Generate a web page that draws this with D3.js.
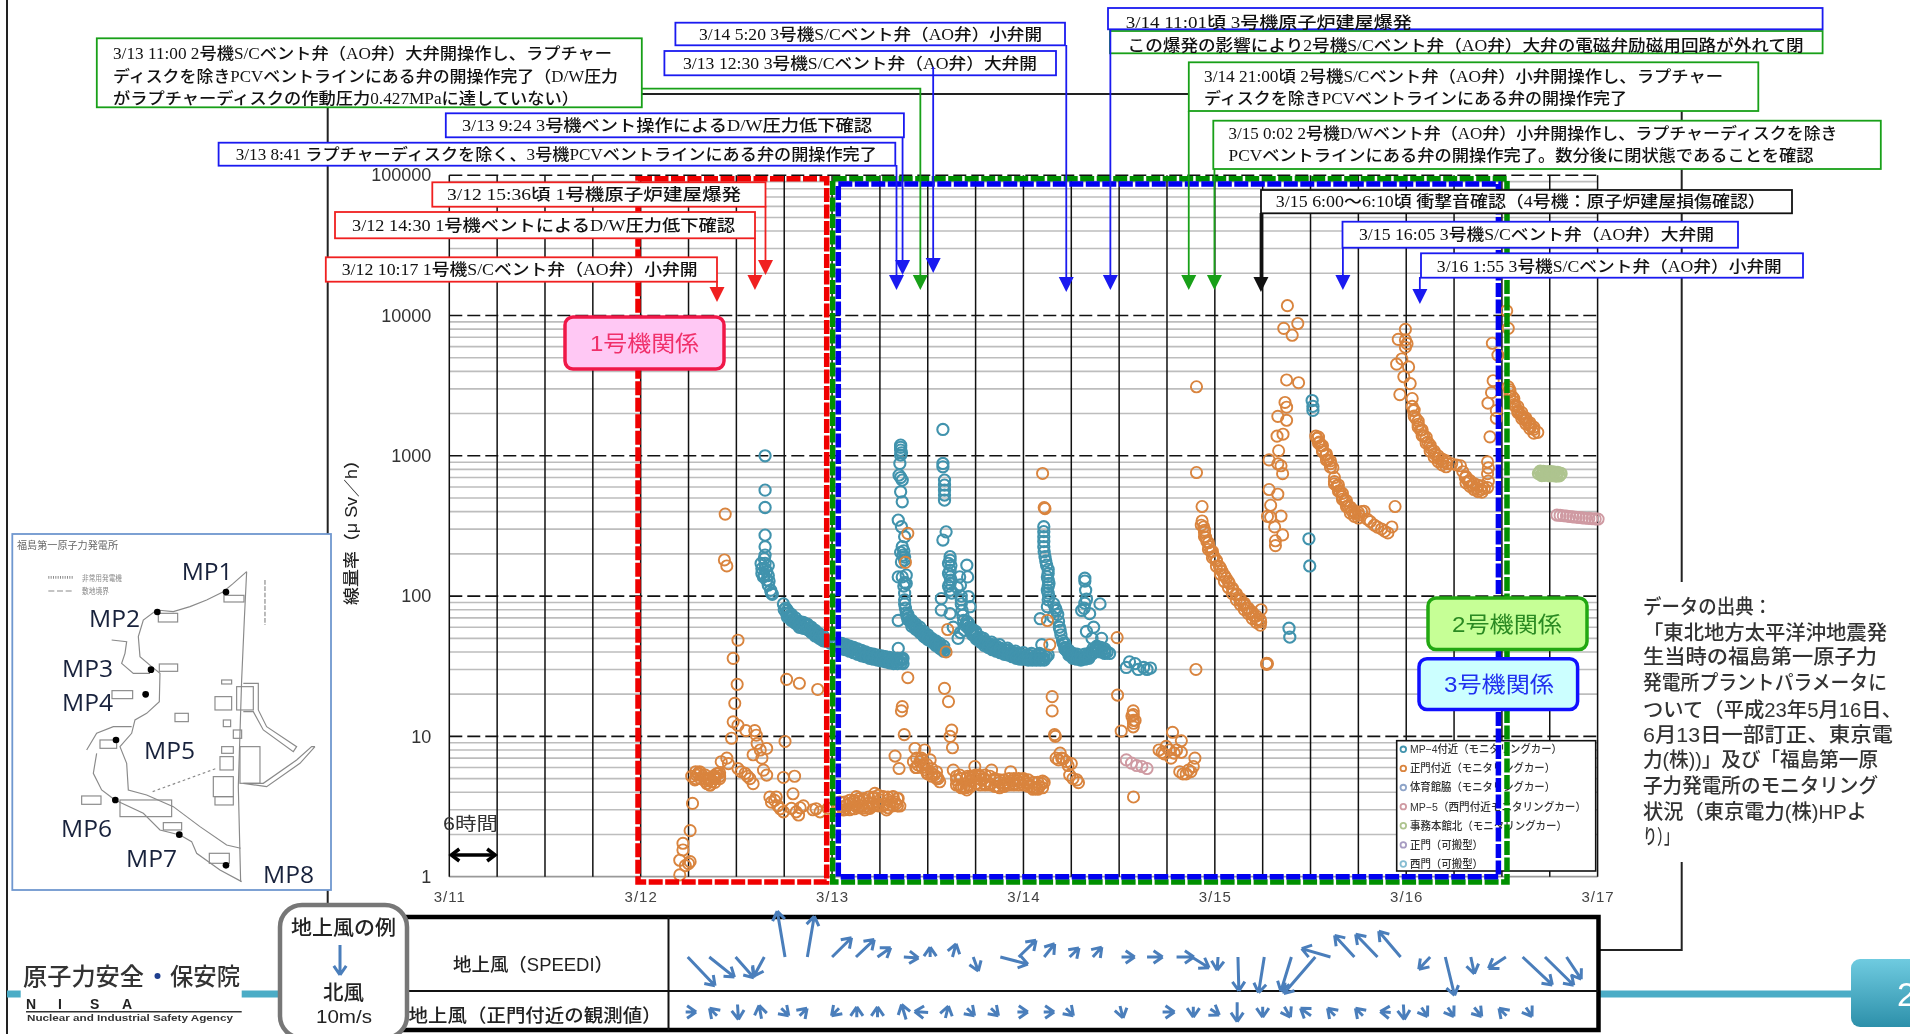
<!DOCTYPE html>
<html lang="ja">
<head>
<meta charset="utf-8">
<title>線量率の推移</title>
<script src="https://cdn.jsdelivr.net/npm/d3@7"></script>
<style>
  html, body { margin: 0; padding: 0; background: #fff; }
  svg { display: block; filter: blur(0.7px); font-family: "Liberation Sans", "Noto Sans CJK JP", sans-serif; }
</style>
</head>
<body>
<svg id="chart" width="1910" height="1034"></svg>
<script>
/* Dose rate at the site gates, 3/11 - 3/17. All points are [hours after 3/11 0:00, uSv/h] */

const yTicks = [1, 10, 100, 1000, 10000, 100000];
const dayLabels = ["3/11", "3/12", "3/13", "3/14", "3/15", "3/16", "3/17"];

// MP-4 monitoring car
const mp4Points = [
  [39.6,1000],[39.6,569],[39.6,428],[39.6,272],[39.6,225],[39.6,196],[39.5,185],[39.1,171],[39.6,171],[40,165],[39.2,157],[39.6,157],[39.8,150],[39.2,145],[39.5,140],[40,140],[39.4,137],[39.8,130],[40.1,128],[40,120],[40.3,110],[40.4,105],[40.5,103],
  [41.9,88],[42,80],[42.2,82],[42.3,75],[42.5,76],[42.7,71],[42.9,72],[43.1,67],[43.3,68],[43.5,64],[43.7,65],[43.9,62],[44.1,64],[44.3,60],[44.5,63],[44.7,59],[44.9,62],[45.1,57],[45.3,59],[45.5,55],[45.7,56],[45.9,53],[46.1,54],[46.3,51],[46.5,52],[46.7,49],[46.9,50],[47.1,48],
  [47.4,48],[47.8,46],[48.2,46],[48.6,45],[49,45],[49.2,43],[49.5,44],[49.8,42],[50.1,43],[50.4,41],[50.7,42],[51,40],[51.3,41],[51.6,39],[51.9,39.5],[52.2,38],[52.5,38.5],[52.8,37],[53.1,37.5],[53.4,36],[53.7,36.5],[54,35.5],[54.3,36],[54.6,35],[54.9,35.5],[55.2,34.5],[55.5,35],[55.8,34],[56.1,35],[56.4,34],[56.7,35],[56.9,36],[56.9,33],
  [56.6,1191],[56.6,1150],[56.6,1097],[56.7,1050],[56.6,1011],[56.5,881],[56.4,728],[56.6,700],[56.8,671],[56.6,554],[56.8,470],[56.3,348],[56.7,312],[57.1,265],[56.8,225],[57,210],[56.6,205],[56.9,196],[57.1,190],[57.1,181],[56.7,175],[56.3,137],[57.3,141],[56.8,137],[57.1,125],[57.3,123],[57,118],[57.1,105],[57.1,94],[56.3,67],[56.3,42.4],
  [57.1,88],[57.2,82],[57.3,76],[57.4,72],[57.6,70],[57.8,67],[58,64],[58.2,63],[58.4,60],[58.6,60],[58.8,57],[59,57],[59.2,54],[59.4,54],[59.6,51],[59.8,52],[60,50],[60.3,50],[60.5,48],[60.7,48],[60.9,46],[61.1,46],[61.3,44],[61.5,44],[61.7,42],[61.9,42],[62.1,41],
  [61.9,1541],[61.9,882],[61.9,835],[62.1,671],[62.1,618],[62.1,569],[62.1,525],[62.1,483],[62.3,287],[61.9,251],
  [62.8,191],[62.8,180],[62.6,171],[62.9,165],[62.8,153],[62.6,145],[62.8,137],[62.9,130],[62.8,123],[62.6,118],[62.8,110],[63,105],[61.7,96],[61.7,79.5],[62.8,75],[63.2,60],[63.8,50],[64.1,55],
  [64.9,166],[65,137],[64,137],[65.1,99],[65.3,84],[64.2,94],[64.2,88],[64.3,79],[64.4,73],[64.5,67],[64.7,62],[64.6,57],[64.2,100],[63.7,115],[64.1,120],
  [64.9,66],[65,64],[65.2,60],[65.4,57],[65.7,54],[65.9,52],[66.2,50],[66.5,49],[66.8,47],[67.1,46],[67.4,45],[67.8,44],[68.1,43],[68.4,42],[68.8,41.5],[69.1,40.5],[69.5,40],[69.8,39],[70.1,39],[70.4,38],[70.7,38],[71,37],[71.3,37],[71.6,36.5],[71.9,36.5],[72.2,36],[72.5,36],[72.8,35.5],[73.1,36],[73.4,35.5],[73.7,36],[74,35.5],[74.3,36],[74.6,36],[74.9,37],[75.1,38],
  [66,56],[67,50],[68,47],[69,45],[70,42.5],[71,40.5],[72,39.5],[73,39],[74,39],
  [74.55,312],[74.55,288],[74.55,265],[74.55,245],[74.55,225],[74.6,207],[74.7,191],[74.8,178],[74.9,166],[75.1,155],[75.1,145],[75,137],[75.1,130],[75.2,123],[75.1,117],[75,110],[75.1,105],[75.2,99],[75.1,94],[74.1,69],[74.3,45],[75,84],[75.7,71],
  [75.8,88],[76,82],[76.1,79],[76.3,74],[76.4,66],[76.5,60],[76.6,57],[76.7,53],[76.9,48],[77,46],[77.2,43],[77.4,41],[77.6,40],[77.8,38.5],[78,38],[78.2,37.5],[78.4,37],[78.7,36.5],[79,36],[79.3,36],[79.6,36.5],[79.8,37],[80.1,37],[80.4,38],[80.7,40],[81,42],[81.2,43],[81.4,42],[81.8,41],[82.2,40.5],[82.5,40],[82.8,39],
  [79.7,134],[79.7,128],[79.8,110],[79.7,89],[79.3,79],[80.3,75],[81.6,88],[80.8,60],[79.9,56],[80.6,50],[81.8,50],[79.6,82],[79.9,95],
  [85.3,34],[84.9,31],[86.4,30],[87.07,31],[87.93,30.7],[87.5,30],[86,33],
  [108.2,2477],[108.3,2250],[108.3,2106],[107.8,256],[107.9,164],[105.3,59],[105.4,51]
];

// the same car, the upper and lower edges of its dense decay bands
const mp4Band = [
  [42.4,79],[42.4,71],[42.9,74],[42.9,67],[43.4,70],[43.4,64],[43.9,66],[43.9,60],[44.4,65],[44.4,59],[44.9,63],[44.9,58],[45.4,60],[45.4,55],[45.9,57],[45.9,52],[46.4,54],[46.4,50],[46.9,52],[46.9,48],
  [49.2,46],[49.2,42],[49.7,45],[49.7,41.5],[50.2,44],[50.2,40.5],[50.7,43],[50.7,39.5],[51.2,42],[51.2,38.5],[51.7,41],[51.7,37.5],[52.2,40],[52.2,37],[52.7,39],[52.7,36],[53.2,38.5],[53.2,35.5],[53.7,38],[53.7,35],[54.2,37.5],[54.2,34.5],[54.7,37],[54.7,34],[55.2,36.5],[55.2,33.5],[55.7,36],[55.7,33],[56.2,36],[56.2,33],[56.7,36],[56.7,33.5],
  [57.5,74],[57.5,68],[58,67],[58,61],[58.5,63],[58.5,58],[59,60],[59,55],[59.5,56],[59.5,52],[60,53],[60,49],[60.5,50],[60.5,47],[61,48],[61,44.5],[61.5,46],[61.5,42.5],[62,44],[62,40.5],
  [65.1,64],[65.1,59],[65.6,58],[65.6,53],[66.1,54],[66.1,49.5],[66.6,51],[66.6,47],[67.1,48],[67.1,44.5],[67.6,46],[67.6,43],[68.1,45],[68.1,41.5],[68.6,44],[68.6,40.5],[69.1,42.5],[69.1,39.5],[69.6,41.5],[69.6,38.5],[70.1,41],[70.1,38],[70.6,40],[70.6,37],[71.1,39],[71.1,36],[71.6,38.5],[71.6,35.5],[72.1,38],[72.1,35.5],[72.6,38],[72.6,35],[73.1,37.5],[73.1,35],[73.6,37.5],[73.6,35],[74.1,38],[74.1,35],[74.6,38],[74.6,35],
  [77.2,46],[77.2,42],[77.7,41],[77.7,38],[78.2,39],[78.2,36],[78.7,38.5],[78.7,35.5],[79.2,38],[79.2,35],[79.7,38.5],[79.7,35.5],[80.2,39],[80.2,36],[80.7,42],[80.7,39],[81.2,44],[81.2,41],[81.7,43],[81.7,40],[82.2,42],[82.2,39]
];

// near the main gate, monitoring car
const gatePoints = [
  [28.9,1.03],[30,1.24],[30.2,1.28],[29.6,1.2],[28.9,1.31],[29.3,1.73],[29.3,1.55],[30.2,2.13],[30.5,3.33],
  [30.4,5.2],[31.2,5.45],[31.8,5.2],[32.5,4.9],[32.9,4.75],[33.3,5],[33.9,5.2],[30.8,4.9],[31.4,5.6],[32.3,4.6],[32.7,4.5],[33.7,5.45],[34.1,6.6],[34.8,7],[35,6.4],[31,5.3],[32,5],[33.1,5.2],[33.5,5.4],
  [35.4,9.7],[35.6,12.7],[35.8,17.2],[36.1,23.5],[35.6,36],[36.2,48.5],[34.6,384],[34.5,181],[34.8,164],
  [36.2,12],[37.2,11],[38.3,11],[38.5,10.2],[38.6,8.9],[39.8,8.2],[39,8],[38.1,7.4],[39.2,7],[36.2,5.9],[37.1,5.45],[37.7,5],[38.1,4.6],[39.4,5.75],[39.8,5.3],[36.6,5.6],[37.4,5.2],[42.1,9.2],[42.3,25.5],[43.9,23.9],[46.2,21.6],[41.9,5.1],[43.3,5.2],[43.1,3.9],
  [40.2,3.7],[40.8,3.5],[41.2,3.2],[41.9,2.9],[41.5,3.05],[40.4,3.4],[41,3.7],[42.9,3.07],[43.8,2.75],[44.4,3.2],[45.6,3],[46.5,2.9],[47.5,3.07],[43.5,2.9],[44,3.1],[46,3.05],
  [48.56,2.97],[49.19,3.15],[49.4,2.99],[49.82,3.24],[50.23,3.33],[50.44,3.07],[50.65,3.42],[51.07,3.72],[51.28,3.15],[51.49,3.42],[51.91,3.52],[52.11,2.99],[52.53,3.33],[52.74,3.07],[53.16,3.61],[53.37,3.93],[53.58,3.24],[54,3.52],[54.41,3.72],[54.83,2.99],[55.04,3.52],[55.25,3.24],[55.67,3.72],[55.88,3.42],[56.29,3.61],[56.5,3.19],[50.9,3.2],[51.7,3.2],[52.3,3.2],[53,3.3],[53.8,3.3],[54.6,3.3],[55.4,3.4],[56,3.3],
  [55.9,7.24],[56.4,5.9],[57.5,26.2],[56.8,16.3],[56.7,15.2],[57.05,10.3],[57.5,280],[57.2,174],
  [58.4,8.2],[59.6,8],[58.2,6.6],[58.8,6.25],[59.2,7],[60.3,6.8],[59.8,5.75],[60.5,5.45],[61.1,5.16],[61.5,4.75],[58.5,6],[59,6.6],[59.5,6.3],[60,5.4],[60.8,5.3],[61.3,5],
  [62.3,40],[62.5,57.8],[62.1,22],[62.6,17.7],[63,11.1],[62.8,10],[63.1,8.3],
  [63.2,5.75],[63.6,4.9],[64.2,4.4],[64.9,4.15],[64,5.3],[65.9,6.1],[65.7,5.2],[66.7,4.9],[68,5.75],[67.8,4.6],[68.8,4.4],[69.7,4.6],[70.4,5.6],[70.9,4.6],[72,4.9],[72.6,4.6],[73.4,4.26],[74.3,4.6],
  [63.9,4.5],[64.5,4.3],[65.1,4.5],[65.4,4.8],[66,5],[66.4,5.3],[67,5],[67.4,4.8],[68.4,4.9],[69,4.7],[69.4,4.5],[70,4.7],[70.6,4.8],[71.2,4.8],[71.6,4.7],[72.3,4.7],[73,4.4],[73.7,4.3],[74,4.4],[74.6,4.7],[65,5.2],[66.2,4.6],[67.2,4.5],
  [74.4,748],[74.6,428],[74.7,420],[75,67],[75.3,45],[75.6,19.2],[75.6,15.2],[75.9,10.3],[76,10],[76.6,7.6],[76.1,7],[76.8,7],[77.4,6.6],[78,6.4],[77.8,5.3],[78.7,4.9],[78.9,4.68],[76.4,6.8],[77,6.9],[77.6,6.2],[78.2,5],
  [83.75,50.6],[83.8,19.7],[85.8,3.7],[84.26,10.9],[85.77,15.2],[85.77,14.3],[85.77,13],[85.77,11.7],[85.6,14],[86,13],[85.8,12.4],
  [90.7,10.7],[91.8,9.3],[89,8],[89.66,7.5],[90.3,8],[91.2,8],[91.8,7.7],[89.9,8.5],[90.5,7],[93.5,7],[93.3,6.1],[92.7,5.75],[92,5.4],[91.6,5.6],[92.4,5.4],[93,5.6],[89.4,7.7],[90.9,7.6],
  [93.7,3105],[93.7,760],[93.63,30],[94.4,435],[94.4,343],[94.3,320],[94.6,311],[94.7,285],[94.84,263],[95,245],[95.27,225],[95.5,208],[95.9,191],[96.2,178],[96.57,163],[96.9,150],[97.2,140],[97.43,134],[97.8,123],[98.3,110],[98.7,102],[99.16,93.6],[99.6,87],[100,82],[100.4,77],[100.9,72],[101.3,68],[101.75,65.5],[101.8,80],
  [102.5,33.2],[102.5,32.6],[102.6,33],
  [105.1,11750],[104.64,8100],[106.4,8770],[105.7,7230],[105,3470],[106.5,3320],[104.8,2400],[105,2220],[103.9,1910],[105,1790],[103.8,1380],[104.55,1425],[104,1086],[102.8,935],[103.9,877],[104.3,849],[104.5,746],[102.8,575],[103.9,532],[103,444],[103,365],[104.3,372],[102.6,370],[103.5,311],[104.5,273],[103.6,248],[103.6,229],
  [108.66,1380],[108.8,1330],[109.1,1253],[109.3,1180],[109.5,1100],[109.9,1010],[110.2,935],[110.5,880],[110.8,822],[111,655],[111.3,610],[111.7,557],[112,512],[112.3,474],[112.7,438],[113.2,403],[113.6,390],[114.05,378],[114.4,400],[114.7,403],[115.1,354],[115.5,340],[116,321],[116.4,310],[116.9,301],[117.3,290],[117.7,282],[118.2,311],[118.6,435],
  [119.9,7960],[119,6760],[119.9,6700],[120.1,6300],[119.9,5940],[119.45,4900],[118.8,4500],[120.3,4300],[119.7,3660],[120.5,3270],[119.2,2730],[120.75,2560],
  [120.75,2250],[120.9,2100],[121.2,1850],[121.5,1680],[121.8,1525],[122.2,1390],[122.7,1253],[123.1,1130],[123.55,1033],[124,960],[124.6,906],[125.1,880],[125.7,877],[126.3,860],[126.8,849],[127.1,770],[127.4,700],[127.8,655],[128.3,614],[128.8,590],[129.4,575],[129.8,585],[130.2,594],[130.3,660],[130.2,746],[130.3,820],[130.2,906],
  [132.6,10800],[132.8,8100],[130.8,6340],[131.5,5220],[130.9,3430],[130.7,2820],[130.25,2370],[131.3,2100],[131.3,1850],[130.5,1365],
  [132.8,3100],[133,2850],[133.3,2640],[133.5,2430],[133.7,2250],[134,2100],[134.35,1970],[134.7,1870],[135,1790],[135.3,1700],[135.6,1625],[136,1540],[136.5,1470]
];

// the same car, edges of the dense stretches
const gateBand = [
  [49,3.4],[49,3],[49.6,3.4],[49.6,3],[50.2,3.5],[50.2,3],[50.8,3.5],[50.8,3.05],[51.4,3.6],[51.4,3.1],[52,3.6],[52,3.1],[52.6,3.7],[52.6,3.1],[53.2,3.7],[53.2,3.2],[53.8,3.8],[53.8,3.2],[54.4,3.7],[54.4,3.2],[55,3.7],[55,3.1],[55.6,3.7],[55.6,3.2],[56.2,3.6],[56.2,3.2],
  [63.6,5.2],[63.6,4.5],[64.2,5],[64.2,4.3],[64.8,5],[64.8,4.3],[65.4,5.2],[65.4,4.4],[66,5.3],[66,4.6],[66.6,5.2],[66.6,4.5],[67.2,5.3],[67.2,4.6],[67.8,5.2],[67.8,4.5],[68.4,5],[68.4,4.4],[69,4.9],[69,4.3],[69.6,4.9],[69.6,4.4],[70.2,5],[70.2,4.5],[70.8,5],[70.8,4.5],[71.4,5],[71.4,4.5],[72,5],[72,4.5],[72.6,4.9],[72.6,4.4],[73.2,4.7],[73.2,4.2],[73.8,4.7],[73.8,4.2],[74.4,4.8],[74.4,4.3],
  [30.9,5.6],[30.9,5],[31.5,5.5],[31.5,5],[32.1,5.3],[32.1,4.8],[32.7,5],[32.7,4.5],[33.3,5.2],[33.3,4.7],[33.9,5.5],[33.9,5],
  [58.6,7],[58.6,6],[59.3,6.8],[59.3,6],[59.9,6.3],[59.9,5.5],[60.5,5.9],[60.5,5.2],[61.1,5.6],[61.1,5],
  [94.7,295],[94.7,265],[95.2,240],[95.2,215],[95.7,208],[95.7,188],[96.2,180],[96.2,163],[96.7,158],[96.7,143],[97.2,140],[97.2,127],[97.7,127],[97.7,115],[98.2,114],[98.2,104],[98.7,104],[98.7,94],[99.2,96],[99.2,87],[99.7,89],[99.7,80],[100.2,82],[100.2,75],[100.7,77],[100.7,69],[101.2,72],[101.2,65],[101.7,68],[101.7,62],
  [109,1360],[109,1230],[109.5,1180],[109.5,1070],[110,1030],[110,930],[110.5,920],[110.5,830],[111,700],[111,630],[111.5,620],[111.5,560],[112,540],[112,490],[112.5,480],[112.5,435],[113,430],[113,390],[113.5,405],[113.5,370],[114,395],[114,360],
  [121,2120],[121,1920],[121.5,1770],[121.5,1600],[122,1530],[122,1390],[122.5,1360],[122.5,1230],[123,1190],[123,1080],[123.5,1080],[123.5,980],[124,1000],[124,910],[124.5,950],[124.5,860],[125,920],[125,835],[127.5,710],[127.5,640],[128,665],[128,605],[128.5,635],[128.5,575],[129,615],[129,555],[129.5,610],[129.5,550],
  [133,2950],[133,2670],[133.5,2560],[133.5,2320],[134,2240],[134,2030],[134.5,2030],[134.5,1840],[135,1860],[135,1690],[135.5,1720],[135.5,1560],[136,1600],[136,1450]
];

// MP-5 (near the west gate), monitoring car
const mp5Points = [
  [84.9,6.8],[85.55,6.45],[86.2,6.2],[86.85,6.1],[87.5,5.9],
  [138.9,378],[139.3,376],[139.7,374],[140.1,372],[140.5,369],[140.9,367],[141.3,365],[141.7,363],[142.1,361],[142.5,359],[142.9,358],[143.3,356],[143.7,355],[144.06,354]
];

// north of the office building, monitoring car
const officePoints = [
  [136.6,748],[136.8,775],[137,725],[137.2,772],[137.4,726],[137.6,742],[137.8,770],[138,722],[138.2,768],[138.4,725],[138.6,762],[138.8,718],[139,760],[139.2,722],[139.4,746],[137.1,750],[137.7,745],[138.3,745],[138.9,742]
];

const legendNames = ["MP−4付近（モニタリングカー）", "正門付近（モニタリングカー）", "体育館脇（モニタリングカー）", "MP−5（西門付近モニタリングカー）", "事務本館北（モニタリングカー）", "正門（可搬型）", "西門（可搬型）"];
const legendColors = ["#4193ad", "#d9843e", "#8ea4c8", "#cf9aa2", "#aec48f", "#a79cc2", "#86bdd2"];
const legendWidths = [152, 145, 145, 176, 157, 73, 73];

// event time of each callout arrow, hours after 3/11 0:00
const eventHours = [33.57, 38.33, 39.65, 56.08, 56.84, 59.07, 60.68, 77.37, 82.9, 92.73, 95.95, 101.78, 112.06, 121.71];
const eventTexts = [
  ["3/12 10:17 1号機S/Cベント弁（AO弁）小弁開"],
  ["3/12 14:30 1号機ベントによるD/W圧力低下確認"],
  ["3/12 15:36頃  1号機原子炉建屋爆発"],
  ["3/13 8:41 ラプチャーディスクを除く、3号機PCVベントラインにある弁の開操作完了"],
  ["3/13 9:24 3号機ベント操作によるD/W圧力低下確認"],
  ["3/13 11:00 2号機S/Cベント弁（AO弁）大弁開操作し、ラプチャー", "ディスクを除きPCVベントラインにある弁の開操作完了（D/W圧力", "がラプチャーディスクの作動圧力0.427MPaに達していない）"],
  ["3/13 12:30 3号機S/Cベント弁（AO弁）大弁開"],
  ["3/14 5:20 3号機S/Cベント弁（AO弁）小弁開"],
  ["3/14 11:01頃 3号機原子炉建屋爆発"],
  ["3/14 21:00頃 2号機S/Cベント弁（AO弁）小弁開操作し、ラプチャー", "ディスクを除きPCVベントラインにある弁の開操作完了"],
  ["3/15 0:02 2号機D/Wベント弁（AO弁）小弁開操作し、ラプチャーディスクを除き", "PCVベントラインにある弁の開操作完了。数分後に閉状態であることを確認"],
  ["3/15 6:00～6:10頃 衝撃音確認（4号機：原子炉建屋損傷確認）"],
  ["3/15 16:05 3号機S/Cベント弁（AO弁）大弁開"],
  ["3/16 1:55 3号機S/Cベント弁（AO弁）小弁開"]
];

// wind: hour, east and north components in m/s
const speediHours = [29.9,32.6,35.9,39.5,42.1,44.9,48,51,53.7,57,60.3,63.1,65.7,69.1,71.4,74.6,77.8,80.7,84.3,87.5,91.2,93.1,96.4,98.9,102.2,105.6,108.6,110.5,113.5,116.4,119.3,123,124.9,128.1,132.5,134.6,137.4,140.1];
const speediU = [9.1,8.4,6.1,-3.5,-2.6,2.3,6.5,6.1,4.4,4.9,0,1.2,1.7,9.2,5.8,3.5,3.1,3,4.4,5.2,5.8,5.8,-0.3,0.3,-1.9,-3.5,-10.5,-9.6,-6.6,-7.3,-7.3,-3.8,3.1,1.2,-5.8,9.9,9.6,4.9];
const speediV = [-9.6,-6.7,-6.9,-6.4,15.3,13.6,6.4,5.8,3.1,-0.3,3.3,4.4,-4.7,-2.4,5.6,4.4,3,3.3,0,0,0,-3.6,-4.4,-11.3,-11.9,-11.4,-12.2,2.8,7.2,7.6,8.6,-4.1,-12.8,-5.6,-3.8,-9.3,-9.4,-7.4];
const gateWindHours = [30.3,33.1,36.2,39,42.1,44.4,48.4,51.1,53.7,57,59.2,62.4,65.4,68.4,71.9,75.2,77.8,84.3,90.2,93.3,96,98.8,102,105.1,107.4,110.6,114.1,117.4,119.7,122.3,125.6,129,132.1,135.4];
const gateWindU = [3.5,-2.5,0.3,-0.8,2.5,2.5,-2.5,0,0,-1.5,-4.5,1,2.5,2.5,3.5,3.5,2.5,1,4,0,3,0,0,2,-3.5,-2.5,-2.5,-3.5,0.3,2,2,2.5,-2.5,2];
const gateWindV = [0,2.5,-5,4.5,-2.5,2.5,-2.5,3.5,3.5,5,0.3,4,-2.5,-2.5,0,0,-2.5,-4,0,-3.5,-2,-6.5,-3.5,-3.5,2.5,2.5,2.5,0.3,-5,-3,-3,-3,2.5,-3];

const sourceLines = ["データの出典：", "「東北地方太平洋沖地震発", "生当時の福島第一原子力", "発電所プラントパラメータに", "ついて（平成23年5月16日、", "6月13日一部訂正、東京電", "力(株))」及び「福島第一原", "子力発電所のモニタリング", "状況（東京電力(株)HPよ", "り）」"];

const CJK = '"Liberation Sans", "Noto Sans CJK JP", sans-serif';
const SERIF_CJK = '"Liberation Serif", "Noto Sans CJK JP", serif';

const svg = d3.select("#chart");
const x = d3.scaleLinear().domain([0, 144]).range([449.3, 1597.6]);
const y = d3.scaleLog().domain([1, 100000]).range([876.7, 175.2]);

// helper: fit text to a measured width
function label(g, str, x0, yc, width, size, fill, family){
  return g.append("text").attr("x", x0).attr("y", yc + size * 0.36)
      .attr("textLength", width).attr("lengthAdjust", "spacingAndGlyphs")
      .attr("font-size", size).attr("fill", fill || "#111")
      .attr("font-family", family || CJK).text(str);
}

// ---- page furniture that sits behind the chart ----
const back = svg.append("g");
back.append("line").attr("x1", 7).attr("x2", 7).attr("y1", 0).attr("y2", 1034).attr("stroke", "#222").attr("stroke-width", 2);
back.append("line").attr("x1", 327.7).attr("x2", 327.7).attr("y1", 105).attr("y2", 905).attr("stroke", "#222").attr("stroke-width", 2);
back.append("line").attr("x1", 642).attr("x2", 1189).attr("y1", 94).attr("y2", 94).attr("stroke", "#222").attr("stroke-width", 2);
back.append("path").attr("d", "M1681.7,111V582M1681.7,862V950H1600").attr("fill", "none").attr("stroke", "#222").attr("stroke-width", 2);
back.append("rect").attr("x", 7).attr("y", 990.5).attr("width", 1850).attr("height", 7).attr("fill", "#4bacc6");

const grad = svg.append("defs").append("linearGradient").attr("id", "tabFill").attr("x1", 0).attr("x2", 0).attr("y1", 0).attr("y2", 1);
grad.append("stop").attr("offset", 0).attr("stop-color", "#6fcbe0");
grad.append("stop").attr("offset", 1).attr("stop-color", "#2d90aa");
back.append("rect").attr("x", 1851).attr("y", 959).attr("width", 80).attr("height", 68).attr("rx", 9).attr("fill", "url(#tabFill)");
back.append("text").attr("x", 1897).attr("y", 1006).attr("font-size", 34).attr("fill", "#fff").text("2");

// ---- grid ----
const grid = svg.append("g");
grid.selectAll("line.minor").data(y.ticks().filter(d => !yTicks.includes(d))).join("line")
    .attr("class", "minor")
    .attr("x1", x(0)).attr("x2", x(144)).attr("y1", d => y(d)).attr("y2", d => y(d))
    .attr("stroke", "#bdbdbd").attr("stroke-width", 1.6);
grid.append("line").attr("x1", x(0)).attr("x2", x(144)).attr("y1", y(1)).attr("y2", y(1))
    .attr("stroke", "#999").attr("stroke-width", 1.8);
grid.selectAll("line.hour").data(d3.range(0, 145, 6)).join("line")
    .attr("class", "hour")
    .attr("x1", d => x(d)).attr("x2", d => x(d)).attr("y1", y(100000)).attr("y2", y(1))
    .attr("stroke", "#111").attr("stroke-width", 1.5);
grid.selectAll("line.major").data(yTicks.slice(1)).join("line")
    .attr("class", "major")
    .attr("x1", x(0)).attr("x2", x(144) + 3).attr("y1", d => y(d)).attr("y2", d => y(d))
    .attr("stroke", "#111").attr("stroke-width", 1.6).attr("stroke-dasharray", "13,5");

// ---- axes ----
const yAxis = svg.append("g").attr("transform", `translate(${x(0) - 15},0)`)
    .call(d3.axisLeft(y).tickValues(yTicks).tickSize(0).tickFormat(d3.format("d")));
const xAxis = svg.append("g").attr("transform", `translate(0,${y(1) + 12})`)
    .call(d3.axisBottom(x).tickValues(d3.range(0, 145, 24)).tickSize(0).tickFormat((d, i) => dayLabels[i]));
yAxis.select(".domain").remove();
xAxis.select(".domain").remove();
yAxis.selectAll("text").attr("font-size", 18).attr("fill", "#333").attr("font-family", "Liberation Sans");
xAxis.selectAll("text").attr("font-size", 15).attr("fill", "#444").attr("letter-spacing", "1px").attr("font-family", "Liberation Sans");

svg.append("g").attr("transform", "translate(357,528) rotate(-90)").append("text")
    .attr("text-anchor", "middle").attr("font-size", 16).attr("font-weight", 500).attr("fill", "#222")
    .attr("textLength", 154).attr("lengthAdjust", "spacingAndGlyphs")
    .attr("font-family", CJK).text("線量率（μ Sv／h）");

// six hour marker
label(svg, "6時間", 443, 824, 55, 18, "#333");
const hourArrow = svg.append("g").attr("stroke", "#000").attr("stroke-width", 3.5).attr("fill", "none");
hourArrow.append("line").attr("x1", x(0) + 2).attr("x2", x(6) - 2).attr("y1", 855).attr("y2", 855);
hourArrow.append("path").attr("d", `M${x(0) + 10},849L${x(0) + 2},855L${x(0) + 10},861M${x(6) - 10},849L${x(6) - 2},855L${x(6) - 10},861`);

// ---- legend box goes under the coloured frames ----
const legend = svg.append("g");
legend.append("rect").attr("x", 1396.7).attr("y", 740.7).attr("width", 199).attr("height", 130.3)
    .attr("fill", "#fff").attr("stroke", "#111").attr("stroke-width", 1.6);
const legendY = d3.scalePoint().domain(legendNames).range([749.3, 864]);
legendNames.forEach((name, i) => {
  legend.append("circle").attr("cx", 1403.3).attr("cy", legendY(name)).attr("r", 2.8)
      .attr("fill", "none").attr("stroke", legendColors[i]).attr("stroke-width", 1.8);
  label(legend, name, 1410, legendY(name), legendWidths[i], 11, "#333").attr("font-weight", 500);
});

// ---- measured points ----
function drawSeries(points, color, width){
  svg.append("g").selectAll("circle").data(points).join("circle")
      .attr("cx", d => x(d[0])).attr("cy", d => y(d[1])).attr("r", 5.6)
      .attr("fill", "none").attr("stroke", color).attr("stroke-width", width);
}
drawSeries(mp4Points.concat(mp4Band), legendColors[0], 2.1);
drawSeries(gatePoints.concat(gateBand), legendColors[1], 1.9);
drawSeries(mp5Points, legendColors[3], 1.9);
drawSeries(officePoints, legendColors[4], 2.4);

// ---- unit frames ----
function frame(x0, x1, y0, y1, color){
  svg.append("rect").attr("x", x0).attr("y", y0).attr("width", x1 - x0).attr("height", y1 - y0)
      .attr("fill", "none").attr("stroke", color).attr("stroke-width", 5.5).attr("stroke-dasharray", "14,2.5");
}
frame(638, 826.7, 178.7, 882, "#f00000");
frame(832.7, 1507, 178.7, 882, "#009000");
frame(838.3, 1498.4, 184, 876.7, "#0000f0");

// ---- event callouts ----
const RED = "#f02020", BLUE = "#1a1af0", GREEN = "#18a018", BLACK = "#111";
// box, text start, measured width of each line, line centres, where the arrow starts and ends
const calloutLayout = [
  {box:[325.8,717,257.3,281.7], tx:341.7, w:[356], ty:[269.5], c:RED, from:281, tip:302},
  {box:[335,755,212,238.3], tx:352, w:[383], ty:[225], c:RED, from:238, tip:290},
  {box:[432.3,765.5,182.3,206.7], tx:447, w:[294], ty:[194.5], c:RED, from:206, tip:275},
  {box:[218.6,895.3,142.7,165.7], tx:235.8, w:[641], ty:[154], c:BLUE, from:165, tip:290},
  {box:[445.8,903.9,113.3,137.3], tx:462, w:[410], ty:[125.3], c:BLUE, from:137, tip:275},
  {box:[96.8,641.8,38.3,107.3], tx:113, w:[499,505,466], ty:[53,76,98], c:GREEN, from:88.7, tip:290, elbow:641.8},
  {box:[664.4,1056,51,75.3], tx:683, w:[354], ty:[63], c:BLUE, from:67, tip:273},
  {box:[675.4,1065,22.7,45.3], tx:699, w:[343], ty:[34], c:BLUE, from:45, tip:292},
  {box:[1108,1822.6,8,29.3], tx:1125.7, w:[286], ty:[22], c:BLUE, from:29, tip:290},
  {box:[1188.8,1758.3,62.3,111], tx:1204, w:[519,423], ty:[76,98.3], c:GREEN, from:111, tip:290},
  {box:[1213.3,1880.8,120.7,169], tx:1228.6, w:[609,585], ty:[133.3,155], c:GREEN, from:169, tip:290},
  {box:[1261,1792,190,213.3], tx:1275.8, w:[490], ty:[201.7], c:BLACK, from:213, tip:292},
  {box:[1342.5,1738,221.7,247.7], tx:1359, w:[355], ty:[234], c:BLUE, from:247, tip:290},
  {box:[1421,1803,253.3,277.7], tx:1436.8, w:[345], ty:[266.7], c:BLUE, from:277, tip:304}
];
const callouts = svg.append("g").attr("font-weight", 500);
// extra box under the 3/14 11:01 one carries the second sentence
callouts.append("rect").attr("x", 1110).attr("y", 31).attr("width", 712.6).attr("height", 22.3)
    .attr("fill", "#fff").attr("stroke", GREEN).attr("stroke-width", 1.8);
label(callouts, "この爆発の影響により2号機S/Cベント弁（AO弁）大弁の電磁弁励磁用回路が外れて閉", 1127.6, 45, 676, 16, "#111", SERIF_CJK);
calloutLayout.forEach((c, i) => {
  callouts.append("rect").attr("x", c.box[0]).attr("y", c.box[2])
      .attr("width", c.box[1] - c.box[0]).attr("height", c.box[3] - c.box[2])
      .attr("fill", "#fff").attr("stroke", c.c).attr("stroke-width", 1.8);
  eventTexts[i].forEach((t, j) => label(callouts, t, c.tx, c.ty[j], c.w[j], 16, "#111", SERIF_CJK));
});
calloutLayout.forEach((c, i) => {
  const ax = x(eventHours[i]);
  const start = c.elbow ? `M${c.elbow},${c.from}H${ax}` : `M${ax},${c.from}`;
  callouts.append("path").attr("d", `${start}V${c.tip - 13}`)
      .attr("fill", "none").attr("stroke", c.c).attr("stroke-width", c.c === BLACK ? 2.6 : 1.8);
  callouts.append("path").attr("d", `M${ax - 7.5},${c.tip - 15}H${ax + 7.5}L${ax},${c.tip}Z`).attr("fill", c.c);
});

// ---- unit tags ----
function unitTag(x0, x1, y0, y1, fill, stroke, text, tx, tw, textFill){
  svg.append("rect").attr("x", x0).attr("y", y0).attr("width", x1 - x0).attr("height", y1 - y0).attr("rx", 8)
      .attr("fill", fill).attr("stroke", stroke).attr("stroke-width", 3.5);
  label(svg, text, tx, (y0 + y1) / 2, tw, 22, textFill);
}
unitTag(565, 724, 317, 369, "#ffc8f4", "#f01848", "1号機関係", 590, 109, "#f0306a");
unitTag(1428, 1587, 598, 649.6, "#c6ff96", "#22a812", "2号機関係", 1452, 110, "#2a8a22");
unitTag(1419, 1577.6, 658.7, 709.6, "#ccffff", "#1010ff", "3号機関係", 1444, 110, "#2030f0");

// ---- right hand source note ----
const note = svg.append("g");
const noteWidths = [129, 244, 234, 244, 259, 250, 235, 235, 224, 35];
const noteY = [606.7, 633, 657, 683, 710, 735, 760, 786, 811.7, 836.7];
sourceLines.forEach((t, i) => label(note, t, 1643, noteY[i], noteWidths[i], 20, "#333").attr("font-weight", 500));

// ---- wind table ----
const table = svg.append("g");
table.append("rect").attr("x", 390).attr("y", 917).attr("width", 1208.5).attr("height", 113)
    .attr("fill", "#fff").attr("stroke", "#000").attr("stroke-width", 4.5);
table.append("line").attr("x1", 390).attr("x2", 1598).attr("y1", 991).attr("y2", 991).attr("stroke", "#111").attr("stroke-width", 2);
table.append("line").attr("x1", 668.5).attr("x2", 668.5).attr("y1", 917).attr("y2", 1030).attr("stroke", "#111").attr("stroke-width", 2);
label(table, "地上風（SPEEDI）", 453, 965, 160, 18, "#222").attr("font-weight", 500);
label(table, "地上風（正門付近の観測値）", 408.6, 1015, 253, 18.5, "#222").attr("font-weight", 500);

const WIND = "#4a7ebb";
function windArrow(g, x0, y0, u, v){
  // 3 px per m/s, the same as the 10 m/s example arrow
  const dx = u * 3, dy = -v * 3, a = Math.atan2(dy, dx);
  const hx = x0 + dx, hy = y0 + dy;
  const barb = s => `M${hx},${hy}L${hx - 11 * Math.cos(a + s)},${hy - 11 * Math.sin(a + s)}`;
  g.append("path").attr("d", `M${x0},${y0}L${hx},${hy}${barb(0.6)}${barb(-0.6)}`)
      .attr("fill", "none").attr("stroke", WIND).attr("stroke-width", 3);
}
const windGroup = svg.append("g");
speediHours.forEach((h, i) => windArrow(windGroup, x(h), 957, speediU[i], speediV[i]));
gateWindHours.forEach((h, i) => windArrow(windGroup, x(h) - gateWindU[i] * 1.5, 1012 + gateWindV[i] * 1.5, gateWindU[i], gateWindV[i]));

// wind key box
const key = svg.append("g");
key.append("rect").attr("x", 280).attr("y", 905).attr("width", 127).attr("height", 133).attr("rx", 22)
    .attr("fill", "#fff").attr("stroke", "#777").attr("stroke-width", 4.5);
label(key, "地上風の例", 291, 928, 105, 20, "#222").attr("font-weight", 500);
windArrow(key, 340, 945, 0, -10);
label(key, "北風", 323, 992.7, 41, 20, "#222").attr("font-weight", 500);
label(key, "10m/s", 316, 1016.7, 56, 18, "#222");

// ---- logo ----
const logo = svg.append("g");
logo.append("rect").attr("x", 20.7).attr("y", 955).attr("width", 221).attr("height", 75).attr("fill", "#fff");
label(logo, "原子力安全", 23, 976, 121, 24, "#333").attr("font-weight", 500);
logo.append("circle").attr("cx", 157.5).attr("cy", 976).attr("r", 3).attr("fill", "#1f3f8f");
label(logo, "保安院", 170, 976, 70, 24, "#333").attr("font-weight", 500);
logo.append("line").attr("x1", 26).attr("x2", 241.7).attr("y1", 1011.7).attr("y2", 1011.7).attr("stroke", "#333").attr("stroke-width", 1.6);
["N", "I", "S", "A"].forEach((c, i) => logo.append("text").attr("x", 26 + i * 32).attr("y", 1009)
    .attr("font-size", 14).attr("font-weight", "bold").attr("fill", "#222").text(c));
label(logo, "Nuclear and Industrial Safety Agency", 27, 1018, 206, 9.5, "#333").attr("font-weight", "bold");

// ---- site map inset, sketched in its own coordinates ----
const inset = svg.append("g");
inset.append("rect").attr("x", 12.3).attr("y", 534).attr("width", 318.7).attr("height", 356)
    .attr("fill", "#fff").attr("stroke", "#6f97cf").attr("stroke-width", 1.8);
const map = inset.append("g").attr("transform", "translate(0,520) scale(0.3333)")
    .attr("fill", "none").attr("stroke", "#8a8a8a").attr("stroke-width", 3.5);
const mapLine = d3.line();
const mapOutlines = [
  [[740,155],[733,300],[725,480],[715,800],[722,1085]],
  [[740,155],[700,190],[670,215],[620,240],[570,260],[520,275],[470,270],[430,300],[415,350],[420,410],[455,440],[480,460],[478,545],[440,580],[405,600],[395,640],[360,680],[380,730],[385,810],[440,825],[520,860],[600,920],[680,975],[722,985]],
  [[345,840],[430,880],[480,930],[540,945],[575,965],[590,1000],[660,1050],[725,1085]],
  [[730,490],[775,490],[775,570],[800,620],[890,680],[880,695],[790,630],[760,575],[730,575]],
  [[945,680],[900,730],[800,800],[730,790],[790,790],[890,720],[935,680],[945,680]],
  [[335,360],[380,365],[375,400],[365,430],[400,460],[450,460]],
  [[260,690],[290,640],[340,620],[395,620]],
  [[290,700],[280,760],[305,810],[345,840]]
];
mapOutlines.forEach(p => map.append("path").attr("d", mapLine(p)));
const mapRooms = [[665,480,30,12],[645,530,50,40],[710,500,50,70],[670,600,22,20],[525,580,40,25],[700,630,25,25],[665,680,35,20],[720,680,60,110],[660,710,40,40],[640,770,60,60],[645,830,55,25],[360,840,155,50],[245,828,58,25],[490,908,55,22],[628,1000,60,30],[336,512,62,24],[478,432,55,22],[475,280,58,26],[672,226,60,20],[300,660,50,25]];
map.selectAll("rect").data(mapRooms).join("rect")
    .attr("x", d => d[0]).attr("y", d => d[1]).attr("width", d => d[2]).attr("height", d => d[3]);
map.append("path").attr("d", "M458,815L650,745").attr("stroke-dasharray", "8,8");
map.append("path").attr("d", "M145,213H215").attr("stroke-dasharray", "18,8");
map.append("path").attr("d", "M145,172H220").attr("stroke-width", 8).attr("stroke-dasharray", "3,4");
map.append("path").attr("d", "M795,180V315").attr("stroke-dasharray", "14,5");
const mapDots = [[678,216],[472,276],[453,449],[437,523],[348,660],[346,840],[538,944],[678,1036]];
map.selectAll("circle").data(mapDots).join("circle")
    .attr("cx", d => d[0]).attr("cy", d => d[1]).attr("r", 10).attr("fill", "#000").attr("stroke", "none");
label(inset, "福島第一原子力発電所", 17, 545, 101, 10, "#666");
label(inset, "非常用発電機", 82, 578, 40, 8, "#888");
label(inset, "敷地境界", 82, 591, 27, 8, "#888");
const mpNames = ["MP1", "MP2", "MP3", "MP4", "MP5", "MP6", "MP7", "MP8"];
const mpX = [181.7, 89, 62, 62, 144, 61, 126, 263];
const mpY = [571.7, 618, 668, 702, 750, 828, 858, 874];
mpNames.forEach((n, i) => label(inset, n, mpX[i], mpY[i], 51, 24, "#18223c", '"Open Sans", sans-serif'));
</script>
</body>
</html>
